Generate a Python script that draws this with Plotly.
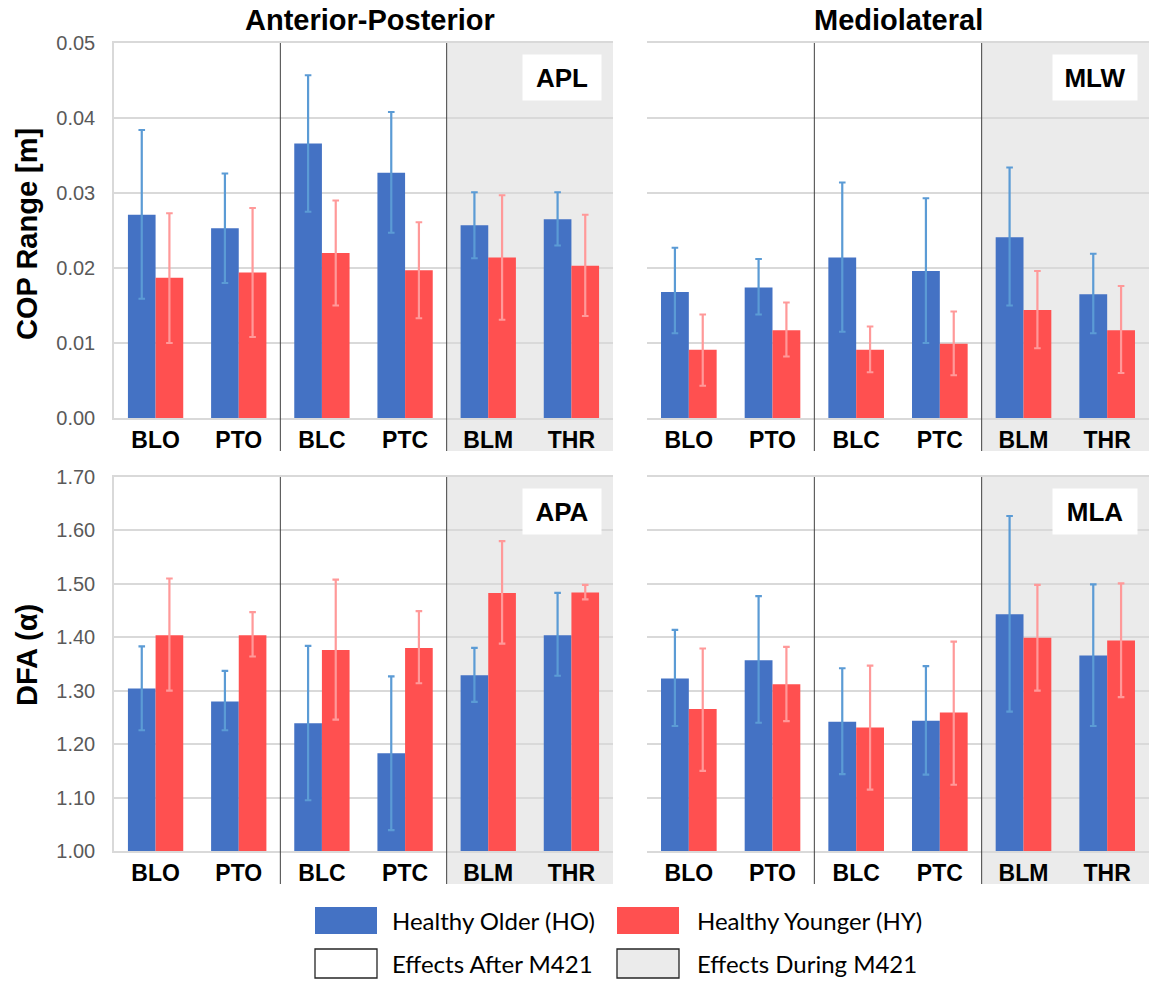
import plotly.graph_objects as go

W, H = 1151, 983

categories = ["BLO", "PTO", "BLC", "PTC", "BLM", "THR"]

# ---- APL : Anterior-Posterior COP range [m]
apl_ho = [0.0271, 0.0253, 0.0366, 0.0327, 0.0257, 0.0265]
apl_ho_hi = [0.0384, 0.0326, 0.0457, 0.0408, 0.0301, 0.0301]
apl_ho_lo = [0.0159, 0.0180, 0.0275, 0.0247, 0.0213, 0.0230]
apl_hy = [0.0187, 0.0194, 0.0220, 0.0197, 0.0214, 0.0203]
apl_hy_hi = [0.0273, 0.0280, 0.0290, 0.0261, 0.0297, 0.0271]
apl_hy_lo = [0.0100, 0.0108, 0.0150, 0.0133, 0.0131, 0.0136]

# ---- MLW : Mediolateral COP range [m]
mlw_ho = [0.0168, 0.0174, 0.0214, 0.0196, 0.0241, 0.0165]
mlw_ho_hi = [0.0227, 0.0212, 0.0314, 0.0293, 0.0334, 0.0219]
mlw_ho_lo = [0.0113, 0.0138, 0.0115, 0.0100, 0.0150, 0.0113]
mlw_hy = [0.0091, 0.0117, 0.0091, 0.0099, 0.0144, 0.0117]
mlw_hy_hi = [0.0138, 0.0154, 0.0122, 0.0142, 0.0196, 0.0176]
mlw_hy_lo = [0.0043, 0.0082, 0.0061, 0.0057, 0.0093, 0.0060]

# ---- APA : Anterior-Posterior DFA alpha
apa_ho = [1.304, 1.280, 1.239, 1.183, 1.329, 1.404]
apa_ho_hi = [1.383, 1.337, 1.384, 1.327, 1.380, 1.483]
apa_ho_lo = [1.226, 1.226, 1.095, 1.039, 1.279, 1.328]
apa_hy = [1.404, 1.404, 1.376, 1.380, 1.483, 1.484]
apa_hy_hi = [1.510, 1.447, 1.508, 1.449, 1.580, 1.498]
apa_hy_lo = [1.300, 1.364, 1.246, 1.314, 1.388, 1.471]

# ---- MLA : Mediolateral DFA alpha
mla_ho = [1.323, 1.357, 1.242, 1.244, 1.443, 1.366]
mla_ho_hi = [1.414, 1.477, 1.342, 1.346, 1.627, 1.499]
mla_ho_lo = [1.234, 1.240, 1.144, 1.143, 1.261, 1.234]
mla_hy = [1.266, 1.312, 1.231, 1.259, 1.399, 1.394]
mla_hy_hi = [1.379, 1.382, 1.347, 1.392, 1.498, 1.501]
mla_hy_lo = [1.150, 1.243, 1.115, 1.124, 1.300, 1.288]

panel_labels = ["APL", "MLW", "APA", "MLA"]
column_titles = ["Anterior-Posterior", "Mediolateral"]
row_titles = ["COP Range [m]", "DFA (\u03b1)"]
legend_labels = ["Healthy Older (HO)", "Healthy Younger (HY)",
                 "Effects After M421", "Effects During M421"]

BLUE = "#4472C4"
RED = "#FF5050"
BLUE_ERR = "#5B9BD5"
RED_ERR = "#FF9999"
GRID = "#D9D9D9"
SHADE = "#EBEBEB"
FONT = "Liberation Sans"


def px(x):
    return x / W


def py(y):
    return 1 - y / H


# panel pixel boxes: (left, right, top, bottom), plus shaded extent bottom
panels = [
    dict(l=114, r=613, t=43, b=418, ext=451),
    dict(l=647, r=1149, t=43, b=418, ext=451),
    dict(l=114, r=613, t=477, b=851, ext=884),
    dict(l=647, r=1149, t=477, b=851, ext=884),
]

data_sets = [
    (apl_ho, apl_ho_hi, apl_ho_lo, apl_hy, apl_hy_hi, apl_hy_lo),
    (mlw_ho, mlw_ho_hi, mlw_ho_lo, mlw_hy, mlw_hy_hi, mlw_hy_lo),
    (apa_ho, apa_ho_hi, apa_ho_lo, apa_hy, apa_hy_hi, apa_hy_lo),
    (mla_ho, mla_ho_hi, mla_ho_lo, mla_hy, mla_hy_hi, mla_hy_lo),
]

fig = go.Figure()
shapes = []
annotations = []
layout_axes = {}

for i, (p, ds) in enumerate(zip(panels, data_sets)):
    n = i + 1
    xa = "x" if n == 1 else f"x{n}"
    ya = "y" if n == 1 else f"y{n}"
    ho, ho_hi, ho_lo, hy, hy_hi, hy_lo = ds
    fig.add_trace(go.Bar(
        x=categories, y=ho, xaxis=xa, yaxis=ya, marker_color=BLUE,
        marker_line_width=0, showlegend=False,
        error_y=dict(type="data", symmetric=False,
                     array=[h - m for h, m in zip(ho_hi, ho)],
                     arrayminus=[m - l for m, l in zip(ho, ho_lo)],
                     color=BLUE_ERR, thickness=2.2, width=3.3),
    ))
    fig.add_trace(go.Bar(
        x=categories, y=hy, xaxis=xa, yaxis=ya, marker_color=RED,
        marker_line_width=0, showlegend=False,
        error_y=dict(type="data", symmetric=False,
                     array=[h - m for h, m in zip(hy_hi, hy)],
                     arrayminus=[m - l for m, l in zip(hy, hy_lo)],
                     color=RED_ERR, thickness=2.2, width=3.3),
    ))

    top_row = i < 2
    left_col = i % 2 == 0
    xkey = "xaxis" if n == 1 else f"xaxis{n}"
    ykey = "yaxis" if n == 1 else f"yaxis{n}"
    layout_axes[xkey] = dict(
        domain=[px(p["l"]), px(p["r"])], anchor=ya, automargin=False,
        type="category", categoryorder="array", categoryarray=categories,
        showgrid=False, showline=True, linecolor=GRID, linewidth=1.5,
        mirror=True, ticks="", ticklabelstandoff=1,
        tickfont=dict(family=FONT, size=23, color="black", weight="bold"),
    )
    layout_axes[ykey] = dict(
        domain=[py(p["b"]), py(p["t"])], anchor=xa, automargin=False,
        range=[0, 0.05] if top_row else [1.0, 1.7],
        dtick=0.01 if top_row else 0.1,
        tick0=0 if top_row else 1.0,
        tickformat=".2f", showgrid=True, gridcolor=GRID, gridwidth=1.5,
        zeroline=False, showline=left_col, linecolor=GRID, linewidth=1.5,
        showticklabels=left_col, ticks="", ticklabelstandoff=13,
        tickfont=dict(family=FONT, size=20, color="#595959"),
    )

    # shaded "during" region and separators (decoration, from domain)
    cw = (p["r"] - p["l"]) / len(categories)
    x_sep1 = p["l"] + 2 * cw
    x_sep2 = p["l"] + 4 * cw
    shapes.append(dict(type="rect", xref="paper", yref="paper",
                       x0=px(x_sep2), x1=px(p["r"]), y0=py(p["ext"]), y1=py(p["t"]),
                       fillcolor=SHADE, line_width=0, layer="below"))
    for xs in (x_sep1, x_sep2):
        shapes.append(dict(type="line", xref="paper", yref="paper",
                           x0=px(xs), x1=px(xs), y0=py(p["ext"]), y1=py(p["t"]),
                           line=dict(color="#404040", width=1), layer="above"))

    # panel label box
    annotations.append(dict(
        text=f"<b>{panel_labels[i]}</b>", xref="paper", yref="paper",
        x=px(p["r"] - 11), y=py(p["t"] + 11), xanchor="right", yanchor="top",
        showarrow=False, bgcolor="white", width=76 if left_col else 82, height=43,
        font=dict(family=FONT, size=26, color="black"),
    ))

# column titles
for j, t in enumerate(column_titles):
    p = panels[j]
    annotations.append(dict(
        text=f"<b>{t}</b>", xref="paper", yref="paper",
        x=px((p["l"] + p["r"]) / 2 + (6 if j == 0 else 0)), y=py(20),
        xanchor="center", yanchor="middle", showarrow=False,
        font=dict(family=FONT, size=29, color="black"),
    ))

# row titles
for k, t in enumerate(row_titles):
    yc = 234 if k == 0 else 655
    annotations.append(dict(
        text=f"<b>{t}</b>", xref="paper", yref="paper",
        x=px(27), y=py(yc), xanchor="center", yanchor="middle",
        textangle=-90, showarrow=False,
        font=dict(family=FONT, size=29, color="black"),
    ))

# custom legend
legend_boxes = [
    (315, 907, 377, 934, BLUE, None),
    (617, 907, 679, 934, RED, None),
    (315, 949, 377, 978, "white", "#262626"),
    (617, 949, 679, 978, SHADE, "#262626"),
]
legend_text_pos = [(390, 920), (695, 920), (390, 963), (695, 963)]
for (x0, y0, x1, y1, fc, lc), (tx, ty), lab in zip(legend_boxes, legend_text_pos, legend_labels):
    shapes.append(dict(type="rect", xref="paper", yref="paper",
                       x0=px(x0), x1=px(x1), y0=py(y1), y1=py(y0),
                       fillcolor=fc,
                       line=dict(color=lc if lc else fc, width=1.3 if lc else 0)))
    annotations.append(dict(
        text=lab, xref="paper", yref="paper", x=px(tx), y=py(ty),
        xanchor="left", yanchor="middle", showarrow=False,
        font=dict(family="Lato", size=24, color="black"),
    ))

fig.update_layout(
    width=W, height=H,
    margin=dict(l=0, r=0, t=0, b=0, autoexpand=False),
    paper_bgcolor="white", plot_bgcolor="rgba(0,0,0,0)",
    barmode="group", bargap=0.335, bargroupgap=0,
    shapes=shapes, annotations=annotations,
    showlegend=False,
    font=dict(family=FONT),
    **layout_axes,
)

fig.write_html("out.html", config={"displayModeBar": False},
               post_script="document.body.style.margin='0';")
